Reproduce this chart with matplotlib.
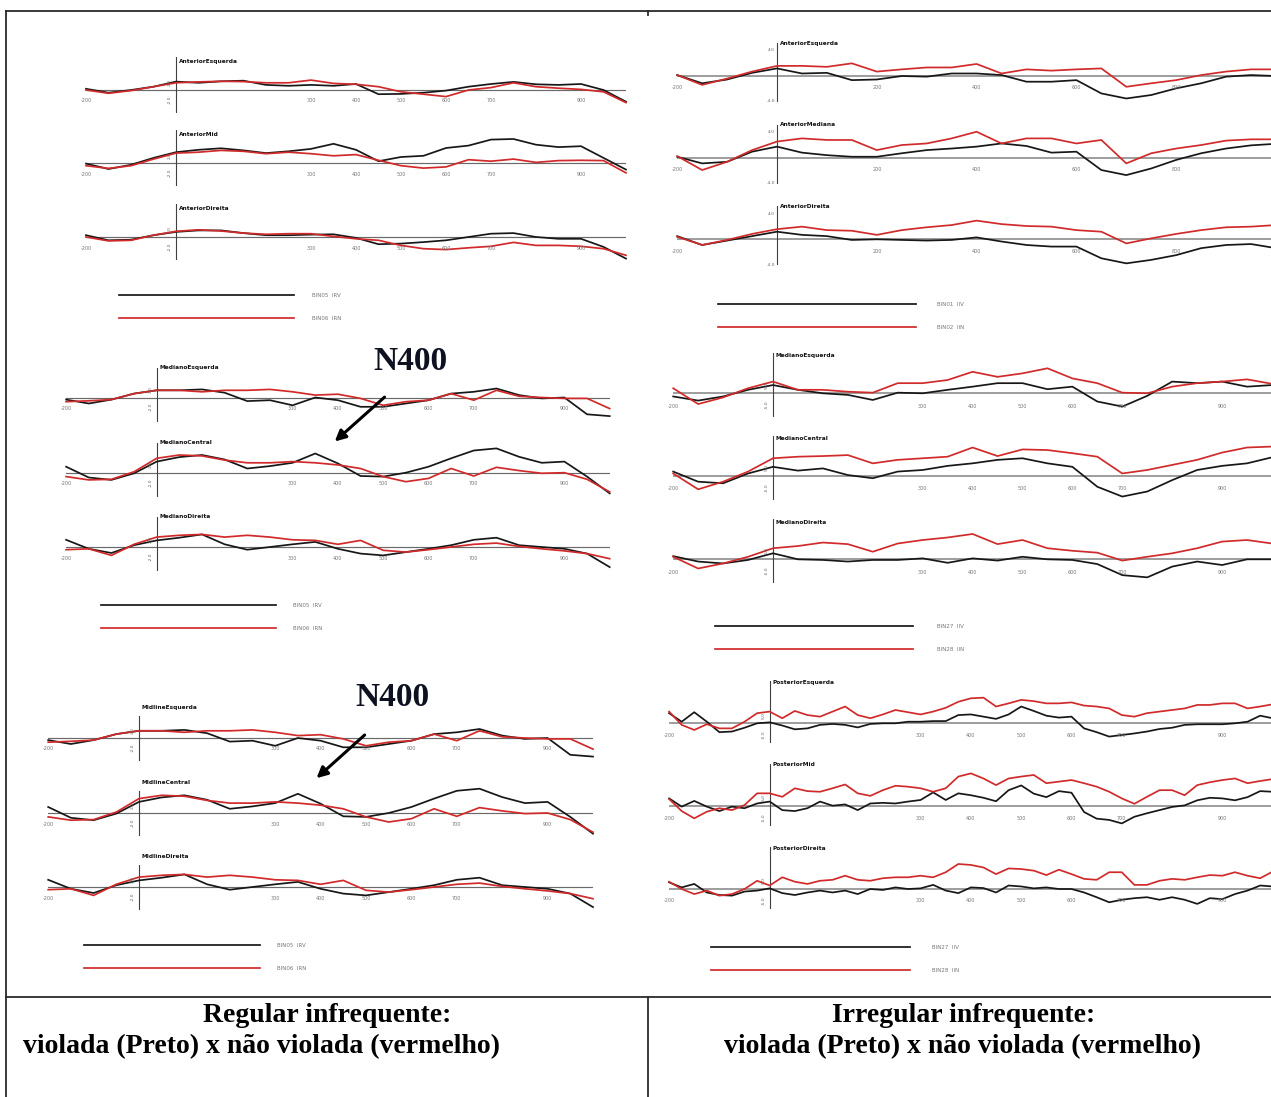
import matplotlib
matplotlib.use("Agg")
import matplotlib.pyplot as plt
from matplotlib.lines import Line2D

# ERP grand averages (microvolts)
# coarse groups: one value every 50 ms, detailed groups: every 25 ms (-200 .. 1000 ms)
times_50 = [-200, -150, -100, -50, 0, 50, 100, 150, 200, 250, 300, 350, 400,
            450, 500, 550, 600, 650, 700, 750, 800, 850, 900, 950, 1000]
times_25 = [-200, -175, -150, -125, -100, -75, -50, -25, 0, 25, 50, 75, 100, 125,
            150, 175, 200, 225, 250, 275, 300, 325, 350, 375, 400, 425, 450, 475,
            500, 525, 550, 575, 600, 625, 650, 675, 700, 725, 750, 775, 800, 825,
            850, 875, 900, 925, 950, 975, 1000]

# Regular infrequente - anterior
reg_ant_esq_v = [0.2, -0.45, 0, 0.55, 1.4, 1.2, 1.45, 1.55, 0.85, 0.7, 0.85, 0.7, 1.0,
                 -0.7, -0.65, -0.45, -0.1, 0.55, 1.0, 1.35, 0.95, 0.85, 1.0, 0, -1.95]
reg_ant_esq_n = [0, -0.55, -0.1, 0.55, 1.2, 1.35, 1.45, 1.4, 1.2, 1.2, 1.65, 1.1, 0.95,
                 0.55, -0.3, -0.7, -1.1, 0, 0.4, 1.2, 0.55, 0.3, 0.1, -0.3, -2.1]
reg_ant_mid_v = [-0.1, -1.0, -0.3, 0.85, 1.8, 2.2, 2.45, 2.1, 1.65, 1.95, 2.35, 3.2, 2.2,
                 0.3, 1.0, 1.2, 2.5, 2.9, 3.9, 4.0, 3.05, 2.65, 2.8, 0.85, -1.1]
reg_ant_mid_n = [-0.45, -0.9, -0.45, 0.65, 1.65, 1.8, 2.1, 1.95, 1.55, 1.8, 1.55, 1.2, 1.4,
                 0.45, -0.45, -0.85, -0.65, 0.55, 0.3, 0.65, 0.1, 0.4, 0.45, 0.4, -1.65]
reg_ant_dir_v = [0.3, -0.55, -0.45, 0.3, 0.85, 1.1, 1.1, 0.65, 0.3, 0.3, 0.4, 0.45, -0.15,
                 -1.2, -1.1, -0.85, -0.55, 0, 0.55, 0.65, 0, -0.3, -0.3, -1.65, -3.6]
reg_ant_dir_n = [0, -0.65, -0.55, 0.3, 0.95, 1.2, 1.0, 0.65, 0.45, 0.55, 0.55, 0.1, -0.3,
                 -0.55, -1.4, -1.95, -2.1, -1.8, -1.55, -0.9, -1.4, -1.4, -1.55, -1.95, -3.05]

# Regular infrequente - mediano (shown twice in the figure)
reg_med_esq_v = [-0.35, -1.0, -0.35, 0.65, 1.2, 1.2, 1.35, 0.8, -0.6, -0.45, -1.3, 0, -0.45,
                 -1.55, -1.55, -1.0, -0.45, 0.65, 0.95, 1.5, 0.4, -0.15, 0, -2.8, -3.1]
reg_med_esq_n = [-0.7, -0.55, -0.35, 0.65, 1.2, 1.2, 0.95, 1.2, 1.2, 1.35, 0.95, 0.4, 0.55,
                 -0.15, -1.3, -0.7, -0.45, 0.65, -0.45, 1.2, 0.2, 0, -0.15, -0.15, -1.85]
reg_med_cen_v = [1.0, -0.8, -1.2, -0.1, 1.85, 2.6, 2.95, 2.2, 0.7, 1.1, 1.65, 3.2, 1.55,
                 -0.55, -0.65, 0, 1.0, 2.4, 3.7, 4.05, 2.65, 1.65, 1.85, -0.65, -3.45]
reg_med_cen_n = [-0.65, -1.2, -1.1, 0.15, 2.4, 2.95, 2.8, 2.1, 1.65, 1.65, 1.85, 1.65, 1.3,
                 0.7, -0.65, -1.5, -0.95, 0.7, -0.55, 0.9, 0.35, -0.1, 0, -1.1, -3.2]
reg_med_dir_v = [1.2, -0.3, -1.0, 0.3, 1.1, 1.55, 2.1, 0.45, -0.45, 0, 0.45, 0.85, -0.3,
                 -1.1, -1.4, -0.85, -0.3, 0.3, 1.2, 1.55, 0.3, 0, -0.3, -1.1, -3.35]
reg_med_dir_n = [-0.45, -0.3, -1.4, 0.45, 1.65, 1.95, 2.1, 1.65, 1.95, 1.65, 1.2, 1.1, 0.45,
                 1.1, -0.55, -0.85, -0.45, 0, 0.45, 0.65, 0.1, -0.3, -0.65, -1.1, -1.95]

# Irregular infrequente - anterior
irr_ant_esq_v = [0.1, -1.2, -0.6, 0.45, 1.15, 0.35, 0.45, -0.7, -0.6, -0.05, -0.15, 0.35, 0.35,
                 0.1, -0.95, -0.95, -0.7, -2.8, -3.6, -3.05, -2.0, -1.2, -0.15, 0.1, -0.05]
irr_ant_esq_n = [0.1, -1.45, -0.45, 0.65, 1.55, 1.55, 1.4, 1.95, 0.65, 1.0, 1.3, 1.3, 1.85,
                 0.35, 1.0, 0.8, 1.0, 1.15, -1.75, -1.2, -0.7, 0.1, 0.65, 1.0, 1.0]
irr_ant_med_v = [0.15, -0.9, -0.65, 0.95, 1.75, 0.8, 0.4, 0.15, 0.15, 0.7, 1.2, 1.45, 1.75,
                 2.25, 1.85, 0.8, 0.95, -1.95, -2.75, -1.7, -0.35, 0.7, 1.45, 1.95, 2.2]
irr_ant_med_n = [0.25, -1.95, -0.65, 1.2, 2.55, 3.05, 2.8, 2.8, 1.2, 2.0, 2.25, 3.05, 4.1,
                 2.25, 3.05, 3.05, 2.25, 2.8, -0.9, 0.7, 1.45, 2.0, 2.7, 2.9, 2.9]
irr_ant_dir_v = [0.5, -0.9, -0.2, 0.5, 1.2, 0.7, 0.5, -0.1, 0, -0.1, -0.2, -0.1, 0.3,
                 -0.35, -0.9, -1.15, -1.15, -3.0, -3.8, -3.25, -2.5, -1.4, -0.9, -0.75, -1.4]
irr_ant_dir_n = [0.4, -0.9, -0.1, 0.85, 1.6, 2.0, 1.45, 1.35, 0.7, 1.45, 1.9, 2.25, 2.95,
                 2.4, 2.1, 2.0, 1.45, 1.2, -0.65, 0.15, 0.85, 1.45, 1.9, 2.0, 2.25]

# Irregular infrequente - mediano
irr_med_esq_v = [-0.5, -1.15, -0.5, 0.55, 1.3, 0.55, 0, -0.25, -1.05, 0.1, 0, 0.55, 1.05,
                 1.6, 1.6, 0.65, 1.05, -1.3, -2.1, -0.4, 1.85, 1.6, 1.85, 1.05, 1.3]
irr_med_esq_n = [0.8, -1.7, -0.65, 0.8, 1.85, 0.55, 0.55, 0.25, 0.1, 1.6, 1.6, 2.1, 3.4,
                 2.6, 3.15, 3.95, 2.35, 1.6, 0.1, 0, 1.05, 1.6, 1.85, 2.2, 1.5]
irr_med_cen_v = [0.7, -0.9, -1.15, 0.4, 1.45, 0.85, 1.2, 0.15, -0.35, 0.7, 0.95, 1.6, 2.0,
                 2.55, 2.8, 2.0, 1.45, -1.7, -3.25, -2.45, -0.65, 0.95, 1.6, 2.0, 2.95]
irr_med_cen_n = [0.4, -2.1, -0.9, 0.7, 2.8, 3.05, 3.15, 3.3, 2.0, 2.55, 2.8, 3.05, 4.5,
                 3.15, 4.2, 4.1, 3.6, 3.05, 0.4, 0.95, 1.75, 2.55, 3.7, 4.5, 4.65]
irr_med_dir_v = [0.45, -0.4, -0.7, -0.15, 0.9, -0.05, -0.15, -0.4, -0.15, -0.15, 0.1, -0.6, 0.1,
                 -0.25, 0.35, -0.05, -0.15, -0.8, -2.55, -2.9, -1.2, -0.4, -0.95, -0.05, -0.05]
irr_med_dir_n = [0.35, -1.5, -0.7, 0.35, 1.7, 2.05, 2.6, 2.35, 1.15, 2.45, 3.0, 3.4, 3.95,
                 2.35, 3.0, 1.7, 1.3, 1.0, -0.25, 0.35, 0.9, 1.7, 2.75, 3.0, 2.45]

# Irregular infrequente - posterior (25 ms)
irr_post_esq_v = [1.6, 0.25, 1.75, 0.25, -1.4, -1.3, -0.7, 0, 0.15, -0.35, -0.95, -0.8,
                  -0.25, -0.1, -0.25, -0.65, -0.1, 0, 0, 0.25, 0.25, 0.35, 0.35, 1.3,
                  1.4, 1.05, 0.7, 1.4, 2.65, 1.95, 1.2, 0.9, 1.05, -0.8, -1.4, -2.1,
                  -1.85, -1.6, -1.3, -0.9, -0.7, -0.25, -0.15, -0.15, -0.15, 0, 0.25, 1.2, 0.8]
irr_post_esq_n = [1.85, -0.25, -1.05, -0.15, -0.8, -0.8, 0.25, 1.6, 1.85, 0.8, 1.95, 1.3,
                  1.05, 1.85, 2.65, 1.3, 0.8, 1.4, 2.1, 1.75, 1.4, 1.85, 2.45, 3.4,
                  3.95, 4.05, 2.65, 3.15, 3.7, 3.5, 3.15, 3.15, 3.3, 2.8, 2.65, 2.35,
                  1.3, 1.05, 1.6, 1.85, 2.1, 2.35, 2.9, 2.9, 3.15, 3.15, 2.35, 2.65, 3.0]
irr_post_mid_v = [1.2, -0.1, 0.8, -0.1, -0.8, -0.1, -0.35, 0.4, 0.7, -0.65, -0.8, -0.35,
                  0.7, 0.05, 0.25, -0.65, 0.4, 0.5, 0.4, 0.7, 0.95, 2.15, 0.95, 2.0,
                  1.7, 1.3, 0.75, 2.5, 3.25, 1.95, 1.4, 2.35, 2.1, -0.95, -2.0, -2.2,
                  -2.75, -1.7, -1.15, -0.65, -0.15, 0.1, 0.9, 1.3, 1.2, 0.9, 1.4, 2.35, 2.25]
irr_post_mid_n = [1.1, -0.8, -1.95, -0.9, -0.35, -0.65, 0.15, 2.0, 2.0, 1.45, 2.8, 2.35,
                  2.25, 2.8, 3.4, 2.0, 1.6, 2.5, 3.2, 3.05, 2.8, 2.25, 2.8, 4.65,
                  5.15, 4.35, 3.3, 4.35, 4.65, 4.9, 3.6, 3.85, 4.1, 3.6, 3.05, 2.25,
                  1.2, 0.35, 1.45, 2.5, 2.5, 1.7, 3.3, 3.75, 4.1, 4.35, 3.6, 3.95, 4.25]
irr_post_dir_v = [1.05, 0.25, 0.8, -0.55, -0.95, -1.05, -0.4, -0.25, 0.1, -0.65, -0.95, -0.55,
                  -0.25, -0.55, -0.25, -0.8, 0, -0.15, 0.25, 0, 0.1, 0.65, -0.25, -0.65,
                  0.25, 0.15, -0.55, 0.55, 0.4, 0.1, 0.25, 0, 0, -0.55, -1.3, -2.1,
                  -1.7, -1.45, -1.3, -1.7, -1.3, -1.7, -2.35, -1.45, -1.6, -0.8, -0.25, 0.55, 0.4]
irr_post_dir_n = [1.15, 0, -0.8, -0.25, -1.05, -0.8, 0, 1.3, 0.55, 1.85, 1.15, 0.8,
                  1.3, 1.45, 2.1, 1.45, 1.3, 1.7, 1.85, 1.85, 2.1, 1.85, 2.65, 3.95,
                  3.8, 3.4, 2.35, 3.25, 3.15, 2.9, 2.2, 3.05, 2.35, 1.6, 1.45, 2.65,
                  2.65, 0.65, 0.65, 1.3, 1.6, 1.45, 1.85, 2.2, 2.1, 2.65, 2.1, 1.7, 2.75]

ticks_a = [-200, 300, 400, 500, 600, 700, 900]
ticks_b = [-200, 200, 400, 600, 800]

W, H = 1271, 1097
BLACK = "#171717"
RED = "#d12a2a"
SERIF = ["Liberation Serif", "DejaVu Serif"]

fig = plt.figure(figsize=(W / 100, H / 100), dpi=100)
fig.patch.set_facecolor("white")


def fx(x):
    return x / W


def fy(y):
    return 1 - y / H


def draw_panel(title, t, violada, nao_violada, x0, k, base, up, down, uv, ticks,
               tick_dy, title_dy, ylabels, zero_style, x_right=W):
    """One electrode panel; x0/base are pixel positions of t=0 and 0 uV."""
    left = x0 + t[0] * k
    right = min(x0 + t[-1] * k, x_right)
    ax = fig.add_axes([fx(left), fy(base + down), (right - left) / W, (up + down) / H])
    ax.set_xlim(t[0], (right - x0) / k)
    ax.set_ylim(-down / uv, up / uv)
    ax.axis("off")
    ax.axhline(0, zorder=1, **zero_style)
    ax.axvline(0, color="#404040", lw=0.8, zorder=1)
    lv, = ax.plot(t, violada, color=BLACK, lw=1.25, clip_on=False, zorder=2)
    ln, = ax.plot(t, nao_violada, color=RED, lw=1.25, clip_on=False, zorder=3)
    for tk in ticks:
        ax.annotate(str(tk), xy=(tk, 0), xytext=(0, -tick_dy), textcoords="offset pixels",
                    ha="center", va="center", fontsize=3.5, color="#777777")
    ax.annotate(title, xy=(0, 0), xytext=(3, title_dy), textcoords="offset pixels",
                ha="left", va="center", fontsize=4.2, fontweight="bold", color="#111111")
    for val, lab, rot in ylabels:
        ax.annotate(lab, xy=(0, val), xytext=(-6, 0), textcoords="offset pixels",
                    ha="center", va="center", fontsize=3.2, color="#666666", rotation=rot)
    return ax, lv, ln


def draw_group(panels, t, x0, k, bases, up, down, uv, ticks, tick_dy, title_dys, ylabels,
               zero_style, legend_x, legend_y, legend_len, legend_gap, labels):
    axes = []
    for (title, v, n), base, tdy in zip(panels, bases, title_dys):
        ax, lv, ln = draw_panel(title, t, v, n, x0, k, base, up, down, uv, ticks,
                                tick_dy, tdy, ylabels, zero_style)
        axes.append(ax)
    fs_px = 4.0 * 100 / 72
    fig.legend([lv, ln], labels, loc="upper left",
               bbox_to_anchor=(fx(legend_x), fy(legend_y - 3.3)),
               frameon=False, fontsize=4.0, handlelength=legend_len / fs_px,
               handletextpad=legend_gap / fs_px, labelspacing=3.3,
               borderpad=0, borderaxespad=0, labelcolor="#777777")
    return axes


left_ylabels = [(1.3, "2.0", 90), (-1.6, "-2.0", 90)]
right_ylabels_a = [(4.0, "4.0", 0), (-4.0, "-4.0", 0)]
right_ylabels_b = [(1.3, "5.0", 90), (-1.8, "-5.0", 90)]
zero_left = dict(color="#6a6a6a", lw=0.85)
zero_right = dict(color="#8c8c8c", lw=1.2)

# left column: Regular infrequente
draw_group([("AnteriorEsquerda", reg_ant_esq_v, reg_ant_esq_n),
            ("AnteriorMid", reg_ant_mid_v, reg_ant_mid_n),
            ("AnteriorDireita", reg_ant_dir_v, reg_ant_dir_n)],
           times_50, 176, 0.45, [90, 163, 237], 33, 23, 6.0, ticks_a, 11, [29, 29, 29],
           left_ylabels, zero_left, 119, 296, 175, 18, ["BIN05  IRV", "BIN06  IRN"])

mid_axes = draw_group([("MedianoEsquerda", reg_med_esq_v, reg_med_esq_n),
                       ("MedianoCentral", reg_med_cen_v, reg_med_cen_n),
                       ("MedianoDireita", reg_med_dir_v, reg_med_dir_n)],
                      times_50, 156.7, 0.453, [397.5, 472.7, 547], 30, 24, 6.0, ticks_a, 11,
                      [30, 30, 30], left_ylabels, zero_left, 101, 606, 175, 17,
                      ["BIN05  IRV", "BIN06  IRN"])

bot_axes = draw_group([("MidlineEsquerda", reg_med_esq_v, reg_med_esq_n),
                       ("MidlineCentral", reg_med_cen_v, reg_med_cen_n),
                       ("MidlineDireita", reg_med_dir_v, reg_med_dir_n)],
                      times_50, 139, 0.454, [738, 813, 887], 22, 23, 6.0, ticks_a, 11,
                      [30, 30, 30], left_ylabels, zero_left, 84, 946, 176, 17,
                      ["BIN05  IRV", "BIN06  IRN"])

# right column: Irregular infrequente
draw_group([("AnteriorEsquerda", irr_ant_esq_v, irr_ant_esq_n),
            ("AnteriorMediana", irr_ant_med_v, irr_ant_med_n),
            ("AnteriorDireita", irr_ant_dir_v, irr_ant_dir_n)],
           times_50, 777, 0.499, [75.7, 157.7, 239.3], 33, 26, 6.33, ticks_b, 12, [32, 33, 33],
           right_ylabels_a, zero_right, 718, 305, 198, 21, ["BIN01  IIV", "BIN02  IIN"])

draw_group([("MedianoEsquerda", irr_med_esq_v, irr_med_esq_n),
            ("MedianoCentral", irr_med_cen_v, irr_med_cen_n),
            ("MedianoDireita", irr_med_dir_v, irr_med_dir_n)],
           times_50, 773, 0.499, [393.3, 476, 559], 40, 24, 6.33, ticks_a, 13, [38, 38, 37],
           right_ylabels_b, zero_right, 715, 627, 198, 24, ["BIN27  IIV", "BIN28  IIN"])

draw_group([("PosteriorEsquerda", irr_post_esq_v, irr_post_esq_n),
            ("PosteriorMid", irr_post_mid_v, irr_post_mid_n),
            ("PosteriorDireita", irr_post_dir_v, irr_post_dir_n)],
           times_25, 769.7, 0.503, [723.3, 806, 889], 42, 20, 6.33, ticks_a, 12, [41, 41, 41],
           right_ylabels_b, zero_right, 711, 948, 199, 22, ["BIN27  IIV", "BIN28  IIN"])

# N400 annotations
arrow = dict(arrowstyle="-|>", color="black", lw=2.2, mutation_scale=16,
             shrinkA=0, shrinkB=0)
mid_axes[1].annotate("", xy=(393, 5.2), xytext=(503, 12.6), arrowprops=arrow,
                     annotation_clip=False)
bot_axes[1].annotate("", xy=(391, 5.8), xytext=(497, 13.0), arrowprops=arrow,
                     annotation_clip=False)
fig.text(fx(410), fy(362), "N400", family=SERIF, fontsize=24, fontweight="bold",
         ha="center", va="center", color="#0d1120")
fig.text(fx(392), fy(697), "N400", family=SERIF, fontsize=24, fontweight="bold",
         ha="center", va="center", color="#0d1120")

# frame of the table
frame = [((6, 11), (W, 11)), ((6, 11), (6, H)), ((6, 997), (W, 997)),
         ((648, 997), (648, H)), ((648, 11), (648, 15))]
for (xa, ya), (xb, yb) in frame:
    fig.add_artist(Line2D([fx(xa), fx(xb)], [fy(ya), fy(yb)], color="#2a2a2a", lw=1.3))

# captions
fig.text(fx(327), fy(1015), "Regular infrequente:", family=SERIF, fontsize=20,
         fontweight="bold", ha="center", va="center")
fig.text(fx(23), fy(1047), "violada (Preto) x não violada (vermelho)", family=SERIF,
         fontsize=20, fontweight="bold", ha="left", va="center")
fig.text(fx(964), fy(1015), "Irregular infrequente:", family=SERIF, fontsize=20,
         fontweight="bold", ha="center", va="center")
fig.text(fx(963), fy(1047), "violada (Preto) x não violada (vermelho)", family=SERIF,
         fontsize=20, fontweight="bold", ha="center", va="center")

fig.savefig("out.png", dpi=100)
